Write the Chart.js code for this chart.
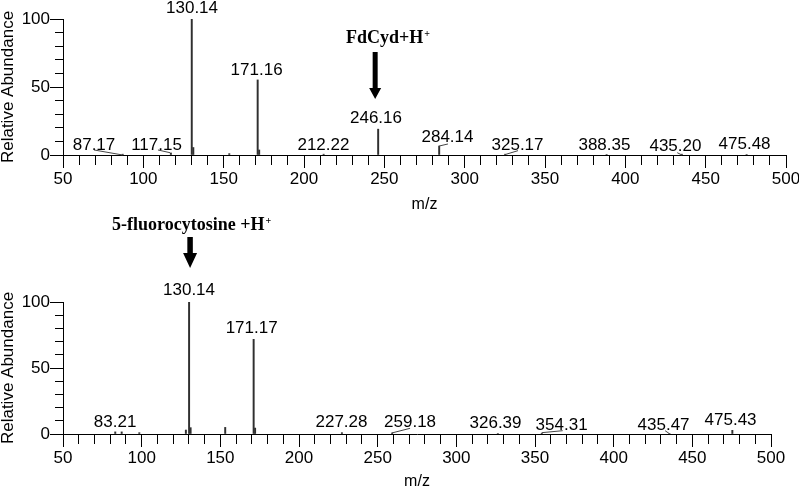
<!DOCTYPE html>
<html><head><meta charset="utf-8">
<script src="https://cdn.jsdelivr.net/npm/chart.js@4.4.0/dist/chart.umd.min.js"></script>
<style>
html,body{margin:0;padding:0;background:#fff;width:799px;height:487px;overflow:hidden;}
canvas{position:absolute;left:0;}
#c1{top:0;}
#c2{top:200px;}
</style></head><body>
<canvas id="c1" width="799" height="240"></canvas>
<canvas id="c2" width="799" height="287"></canvas>
<script>
// ---- data ----
const xTickValues = [50, 100, 150, 200, 250, 300, 350, 400, 450, 500];
const yTickValues = [0, 50, 100];

const topMz    = [87.17, 117.15, 130.14, 131.1, 153.5, 171.16, 172.1, 212.22, 246.16, 284.14, 325.17, 388.35, 435.20, 475.48];
const topAbund = [0.6,   1.5,    100,    5.5,   1.0,   55.2,   3.7,   0.6,    19.0,   6.6,    0.6,    0.4,    0.6,    0.4];
const topLabels = ['130.14', '171.16', '246.16', '212.22', '87.17', '117.15', '284.14', '325.17', '388.35', '435.20', '475.48'];
const topLabelX = [130.3, 170.5, 244.8, 212.1, 69.3, 108.2, 289.3, 332.9, 387.0, 431.2, 474.2];
const topLabelY = [104.6, 58.8, 23.3, 3.7, 3.7, 3.7, 9.8, 3.7, 3.7, 3.2, 4.2];
const topLeaders = [[69.3, 3.7, 87.17, 0], [109.1, 3.7, 116.6, 1.7], [284.14, 6.6, 289.6, 8.1], [333.2, 3.2, 325.17, 0.3], [432.3, 1.7, 435.2, 0]];

const botMz    = [83.21, 87.3, 98.5, 128.1, 130.14, 131.1, 153.1, 171.17, 172.1, 227.28, 259.18, 326.39, 354.31, 435.47, 475.43];
const botAbund = [1.6,   1.6,  1.0,  3.0,   100,    4.8,   5.0,   71.7,   4.5,   1.0,    0.8,    0.4,    0.6,    0.4,    2.8];
const botLabels = ['130.14', '171.17', '83.21', '227.28', '259.18', '326.39', '354.31', '435.47', '475.43'];
const botLabelX = [130.1, 169.9, 83.1, 227.0, 270.6, 324.9, 366.9, 431.7, 474.3];
const botLabelY = [105.3, 76.3, 5.5, 5.5, 5.5, 4.8, 3.0, 3.0, 6.8];
const botLeaders = [[259.1, 0.8, 270.6, 4.3], [354.3, 1.0, 367.6, 2.5], [432.7, 2.5, 435.5, 0.2]];

// minor tick positions (every 10 units) for the axis tick marks
const xMinorTicks = [];
for (let i = 0; i <= 45; i++) xMinorTicks.push(50 + i * 10);
const yMinorTicks = [];
for (let i = 0; i <= 10; i++) yMinorTicks.push(i * 10);

// ---- plugin: peak labels, leader lines, annotations ----
const spectrumPlugin = {
  id: 'spectrum',
  afterDraw(chart, args, o) {
    const ctx = chart.ctx, xs = chart.scales.x, ys = chart.scales.y;
    ctx.save();
    // leader lines
    ctx.strokeStyle = '#444';
    ctx.lineWidth = 1;
    o.leaders.forEach(l => {
      ctx.beginPath();
      ctx.moveTo(xs.getPixelForValue(l[0]), ys.getPixelForValue(l[1]));
      ctx.lineTo(xs.getPixelForValue(l[2]), ys.getPixelForValue(l[3]));
      ctx.stroke();
    });
    // peak labels
    ctx.fillStyle = '#000';
    ctx.font = '17px "Liberation Sans", Arial, sans-serif';
    ctx.textAlign = 'center';
    ctx.textBaseline = 'alphabetic';
    o.labels.forEach((t, i) => {
      ctx.fillText(t, xs.getPixelForValue(o.lx[i]), ys.getPixelForValue(o.ly[i]));
    });
    // annotation text
    const n = o.note;
    ctx.textAlign = 'left';
    ctx.font = 'bold 18px "Liberation Serif", "Times New Roman", serif';
    ctx.fillText(n.text, n.x, n.y);
    const w = ctx.measureText(n.text).width;
    ctx.font = 'bold 10px "Liberation Serif", "Times New Roman", serif';
    ctx.fillText('+', n.x + w + 1, n.y - 6);
    // arrow
    const a = o.arrow;
    const ax = xs.getPixelForValue(a.mz) + a.dx;
    ctx.beginPath();
    ctx.rect(ax - a.sw / 2, a.top, a.sw, a.base - a.top);
    ctx.moveTo(ax - a.hw / 2, a.base);
    ctx.lineTo(ax + a.hw / 2, a.base);
    ctx.lineTo(ax, a.tip);
    ctx.closePath();
    ctx.fill();
    ctx.restore();
  }
};

const FONT = '"Liberation Sans", Arial, sans-serif';

function makeChart(id, mz, abund, cfg) {
  return new Chart(document.getElementById(id), {
    type: 'bar',
    data: {
      datasets: [{
        data: mz.map((m, i) => ({x: m, y: abund[i]})),
        backgroundColor: '#303030',
        borderWidth: 0,
        barThickness: 1.3,
        grouped: false
      }]
    },
    options: {
      responsive: false,
      animation: false,
      layout: {padding: {left: 0, right: cfg.padRight, top: cfg.padTop, bottom: 0}},
      plugins: {
        legend: {display: false},
        tooltip: {enabled: false},
        spectrum: cfg.spec
      },
      scales: {
        x: {
          type: 'linear', min: 50, max: 500, offset: false,
          grid: {
            display: true, drawOnChartArea: false, drawTicks: true, offset: false,
            tickLength: 13, tickColor: '#000', tickWidth: 1,
            tickBorderDash: c => (xTickValues.includes(c.tick.value) ? [] : [9, 100])
          },
          border: {display: true, color: '#000', width: 1},
          afterBuildTicks: s => { s.ticks = xMinorTicks.map(v => ({value: v})); },
          afterFit: s => { s.height = cfg.xHeight; s.paddingLeft = 0; s.paddingRight = 0; },
          ticks: {
            color: '#000', font: {family: FONT, size: 17}, padding: 1, maxRotation: 0, autoSkip: false,
            callback: v => (xTickValues.includes(v) ? String(v) : '')
          },
          title: {display: true, text: 'm/z', color: '#000', font: {family: FONT, size: 16, lineHeight: 1}, padding: {top: 0, bottom: cfg.mzPad}}
        },
        y: {
          min: 0, max: 100,
          grid: {
            display: true, drawOnChartArea: false, drawTicks: true,
            tickLength: 13, tickColor: '#000', tickWidth: 1,
            tickBorderDash: c => (yTickValues.includes(c.tick.value) ? [] : [8, 100]),
            tickBorderDashOffset: 103
          },
          border: {display: true, color: '#000', width: 1},
          afterBuildTicks: s => { s.ticks = yMinorTicks.map(v => ({value: v})); },
          afterFit: s => { s.width = 63; s.paddingTop = 0; s.paddingBottom = 0; },
          ticks: {
            color: '#000', font: {family: FONT, size: 17}, padding: 0, autoSkip: false,
            callback: v => (yTickValues.includes(v) ? String(v) : '')
          },
          title: {display: true, text: 'Relative Abundance', color: '#000', font: {family: FONT, size: 17, lineHeight: 1}, padding: {top: 0, bottom: 0}}
        }
      }
    },
    plugins: [spectrumPlugin]
  });
}

makeChart('c1', topMz, topAbund, {
  padRight: 13, padTop: 19, xHeight: 85, mzPad: 27,
  spec: {
    labels: topLabels, lx: topLabelX, ly: topLabelY, leaders: topLeaders,
    note: {text: 'FdCyd+H', x: 346, y: 43},
    arrow: {mz: 246.16, dx: -3, top: 52, base: 88, tip: 99, sw: 5, hw: 12}
  }
});
makeChart('c2', botMz, botAbund, {
  padRight: 28, padTop: 102, xHeight: 53, mzPad: -3,
  spec: {
    labels: botLabels, lx: botLabelX, ly: botLabelY, leaders: botLeaders,
    note: {text: '5-fluorocytosine +H', x: 112, y: 30},
    arrow: {mz: 130.14, dx: 1, top: 37, base: 53, tip: 68, sw: 5.5, hw: 14}
  }
});
</script>
</body></html>
